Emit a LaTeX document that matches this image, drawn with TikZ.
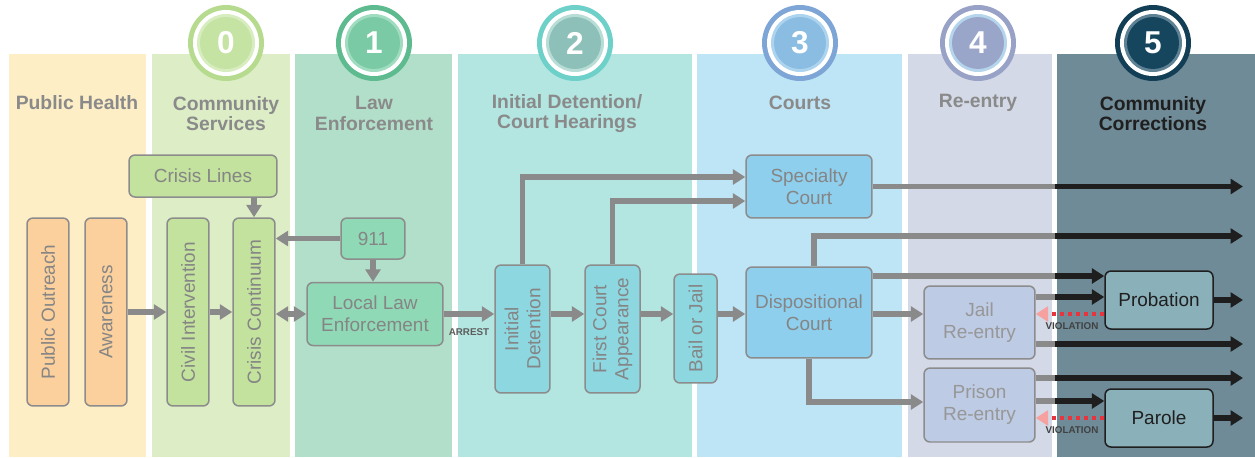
\documentclass[tikz,border=0pt]{standalone}
\usepackage{fontspec}
\setmainfont{Liberation Sans}
\usetikzlibrary{arrows.meta,calc,positioning}

% band colours
\definecolor{phband}{HTML}{FDEEC6}
\definecolor{csband}{HTML}{DDEEC6}
\definecolor{leband}{HTML}{B2DFC9}
\definecolor{idband}{HTML}{B3E5E1}
\definecolor{coband}{HTML}{BEE5F5}
\definecolor{reband}{HTML}{D3D9E7}
\definecolor{ccband}{HTML}{6F8B98}
% box colours
\definecolor{orangebox}{HTML}{FCD09C}
\definecolor{greenbox}{HTML}{C2E29D}
\definecolor{lawbox}{HTML}{8FD9B6}
\definecolor{cyanbox}{HTML}{8CD7E0}
\definecolor{courtbox}{HTML}{8ECFEE}
\definecolor{reentrybox}{HTML}{BDCBE4}
\definecolor{corrfill}{HTML}{8AB0BA}
\definecolor{boxline}{HTML}{8C8C8C}
\definecolor{boxtext}{HTML}{858585}
\definecolor{headtext}{HTML}{8A8A8A}
\definecolor{darktext}{HTML}{1F1F1F}
\definecolor{arrowgray}{HTML}{8A8A8A}
\definecolor{arrowblack}{HTML}{1E1E1E}
\definecolor{violred}{HTML}{E8343C}
\definecolor{violpink}{HTML}{F7A0A0}
% circle colours
\definecolor{ringA}{HTML}{B6DB8E}\definecolor{rimA}{HTML}{D8EDBF}\definecolor{coreA}{HTML}{C5E3A2}
\definecolor{ringB}{HTML}{5DBB8F}\definecolor{rimB}{HTML}{A0DCC0}\definecolor{coreB}{HTML}{7ACBA5}
\definecolor{ringC}{HTML}{6DD0C9}\definecolor{rimC}{HTML}{B8DDD7}\definecolor{coreC}{HTML}{8DC0B8}
\definecolor{ringD}{HTML}{7DA5D6}\definecolor{rimD}{HTML}{ADD4EF}\definecolor{coreD}{HTML}{8BBDE2}
\definecolor{ringE}{HTML}{98A2C6}\definecolor{rimE}{HTML}{B5D5EC}\definecolor{coreE}{HTML}{9AA5CA}
\definecolor{ringF}{HTML}{123F55}\definecolor{rimF}{HTML}{5E8294}\definecolor{coreF}{HTML}{16465E}

\tikzset{
  >={Triangle[length=0.25cm,width=0.3cm]},
  box/.style={draw=boxline, line width=0.03cm, rounded corners=0.12cm, inner sep=0pt,
    text=boxtext, align=center, font=\fontsize{10.8}{12.5}\selectfont},
  corrbox/.style={box, fill=corrfill, draw=darktext, text=darktext},
  vlabel/.style={rotate=90, text=boxtext, align=center, inner sep=0pt,
    font=\fontsize{10.8}{12.5}\selectfont},
  header/.style={text=headtext, align=center, font=\bfseries\fontsize{11}{11.5}\selectfont},
  plain/.style={draw=arrowgray, line width=0.11cm},
  flow/.style={plain, ->},
  flowdark/.style={draw=arrowblack, line width=0.11cm, ->},
  violation/.style={draw=violred, line width=0.08cm, dash pattern=on 0.08cm off 0.08cm,
    -{Triangle[length=0.25cm,width=0.3cm,color=violpink]}},
  smalllabel/.style={inner sep=0pt, font=\bfseries\fontsize{5.6}{6}\selectfont}
}

\begin{document}
\begin{tikzpicture}[x=0.02cm, y=-0.02cm]
\useasboundingbox (0,0) rectangle (1255,457);
\def \bandtop {54}
\def \bandbot {457}

%Bands
\fill[phband] (9,\bandtop) rectangle (146,\bandbot);
\fill[csband] (152,\bandtop) rectangle (290,\bandbot);
\fill[leband] (295,\bandtop) rectangle (452,\bandbot);
\fill[idband] (458,\bandtop) rectangle (692,\bandbot);
\fill[coband] (697,\bandtop) rectangle (902,\bandbot);
\fill[reband] (908,\bandtop) rectangle (1052,\bandbot);
\fill[ccband] (1057,\bandtop) rectangle (1255,\bandbot);

%Step circles
\foreach \n/\cx/\ring/\rim/\core in {0/226/ringA/rimA/coreA, 1/374/ringB/rimB/coreB,
    2/575/ringC/rimC/coreC, 3/800/ringD/rimD/coreD, 4/978/ringE/rimE/coreE,
    5/1153/ringF/rimF/coreF}{
  \fill[\ring] (\cx,43) circle (0.76cm);
  \fill[white] (\cx,43) circle (0.66cm);
  \fill[\rim] (\cx,43) circle (0.58cm);
  \node[circle, fill=\core, minimum size=1.04cm, inner sep=0pt, text=white,
    font=\bfseries\fontsize{18}{18}\selectfont] (step\n) at (\cx,43) {\n};
}

%Headers
\node[header] (hph) at (77,103) {Public Health};
\node[header] (hcs) at (226,113.5) {Community\\Services};
\node[header] (hle) at (374,113.5) {Law\\Enforcement};
\node[header] (hid) at (567,113.5) {Initial Detention/\\Court Hearings};
\node[header] (hco) at (800,103) {Courts};
\node[header] (hre) at (978,103) {Re-entry};
\node[header, text=darktext] (hcc) at (1153,113.5) {Community\\Corrections};

%Public health and community services
\node[box, fill=orangebox, minimum width=0.84cm, minimum height=3.76cm] (po) at (48,312) {};
\node[vlabel] (polabel) at (po) {Public Outreach};
\node[box, fill=orangebox, minimum width=0.84cm, minimum height=3.76cm] (aw) at (106,312) {};
\node[vlabel] (awlabel) at (aw) {Awareness};
\node[box, fill=greenbox, minimum width=0.84cm, minimum height=3.76cm] (ci) at (188,312) {};
\node[vlabel] (cilabel) at (ci) {Civil Intervention};
\node[box, fill=greenbox, minimum width=0.84cm, minimum height=3.76cm] (cc) at (254,312) {};
\node[vlabel] (cclabel) at (cc) {Crisis Continuum};
\node[box, fill=greenbox, minimum width=2.96cm, minimum height=0.84cm] (cl) at (203,176) {Crisis Lines};

%Law enforcement
\node[box, fill=lawbox, minimum width=1.28cm, minimum height=0.82cm] (n911) at (373,238.5) {911};
\node[box, fill=lawbox, minimum width=2.72cm, minimum height=1.26cm] (lle) at (375,314) {Local Law\\Enforcement};

%Initial detention
\coordinate (main) at (0,314);
\node[box, fill=cyanbox, minimum width=1.1cm, minimum height=2.56cm] (id) at (522.5,329) {};
\node[vlabel] (idlabel) at (id) {Initial\\Detention};
\node[box, fill=cyanbox, minimum width=1.1cm, minimum height=2.56cm] (fca) at (612.5,329) {};
\node[vlabel] (fcalabel) at (fca) {First Court\\Appearance};
\node[box, fill=cyanbox, minimum width=0.86cm, minimum height=2.18cm] (bj) at (695.5,328.5) {};
\node[vlabel] (bjlabel) at (bj) {Bail or Jail};

%Courts
\node[box, fill=courtbox, minimum width=2.52cm, minimum height=1.26cm] (sc) at (809,186.5) {Specialty\\Court};
\node[box, fill=courtbox, minimum width=2.52cm, minimum height=1.82cm] (dc) at (809,312.5) {Dispositional\\Court};

%Re-entry
\node[box, fill=reentrybox, minimum width=2.22cm, minimum height=1.46cm, text=boxtext!85] (jr) at (979.5,322.5) {Jail\\Re-entry};
\node[box, fill=reentrybox, minimum width=2.22cm, minimum height=1.48cm, text=boxtext!85] (pr) at (979.5,405) {Prison\\Re-entry};

%Community corrections
\node[corrbox, minimum width=2.16cm, minimum height=1.16cm] (prob) at (1159,300) {Probation};
\node[corrbox, minimum width=2.16cm, minimum height=1.16cm] (parole) at (1159,418) {Parole};

\coordinate (edge) at (1055,0);
\coordinate (out) at (1243,0);
\coordinate (o2) at (1243,236);
\coordinate (o4) at (1243,344);
\coordinate (o5) at (1243,378);
\coordinate (p1) at ([yshift=0.48cm]prob.west);
\coordinate (p2) at ([yshift=0.06cm]prob.west);
\coordinate (v1) at ([yshift=-0.28cm]prob.west);
\coordinate (p3) at ([yshift=0.34cm]parole.west);

%Arrows, left part
\draw[flow] (aw.east) -- (ci.west);
\draw[flow] (ci.east) -- (cc.west);
\draw[flow, <->] (lle.west -| cc.east) -- (lle.west);
\draw[flow] (cc.north |- cl.south) -- (cc.north);
\draw[flow] (n911.west) -- (n911.west -| cc.east);
\draw[flow] (n911.south) -- (n911.south |- lle.north);
\draw[flow] (lle.east) -- (lle.east -| id.west)
  node[smalllabel, text=boxtext!70!black, pos=0.5, below=0.24cm] (arrest) {ARREST};

%Arrows, detention and courts
\draw[flow] (id.east |- main) -- (fca.west |- main);
\draw[flow] (fca.east |- main) -- (bj.west |- main);
\draw[flow] (bj.east |- main) -- (dc.west |- main);
\draw[flow] (id.north) |- ([yshift=0.19cm]sc.west);
\draw[flow] (fca.north) |- ([yshift=-0.29cm]sc.west);
\draw[flow] (dc.east |- main) -- (jr.west |- main);
\draw[flow] (dc.south) |- ([yshift=0.06cm]pr.west);

%Arrows into community corrections
\draw[plain] (sc.east) -- (sc.east -| edge);
\draw[flowdark] (sc.east -| edge) -- (sc.east -| out);
\draw[plain] ([xshift=0.1cm]dc.north) |- (o2 -| edge);
\draw[flowdark] (o2 -| edge) -- (o2);
\draw[plain] (dc.east |- p1) -- (edge |- p1);
\draw[flowdark] (edge |- p1) -- (p1);
\draw[plain] (jr.east |- p2) -- (edge |- p2);
\draw[flowdark] (edge |- p2) -- (p2);
\draw[plain] (jr.east |- o4) -- (edge |- o4);
\draw[flowdark] (edge |- o4) -- (o4);
\draw[plain] (pr.east |- o5) -- (edge |- o5);
\draw[flowdark] (edge |- o5) -- (o5);
\draw[plain] (pr.east |- p3) -- (edge |- p3);
\draw[flowdark] (edge |- p3) -- (p3);
\draw[flowdark] (prob.east) -- (prob.east -| out);
\draw[flowdark] (parole.east) -- (parole.east -| out);

%Violations
\draw[violation] (v1) -- (jr.east |- v1)
  node[smalllabel, text=darktext!85, pos=0.47, below=0.13cm] (viol1) {VIOLATION};
\draw[violation] (parole.west) -- (pr.east |- parole.west)
  node[smalllabel, text=darktext!85, pos=0.47, below=0.13cm] (viol2) {VIOLATION};

\end{tikzpicture}
\end{document}
